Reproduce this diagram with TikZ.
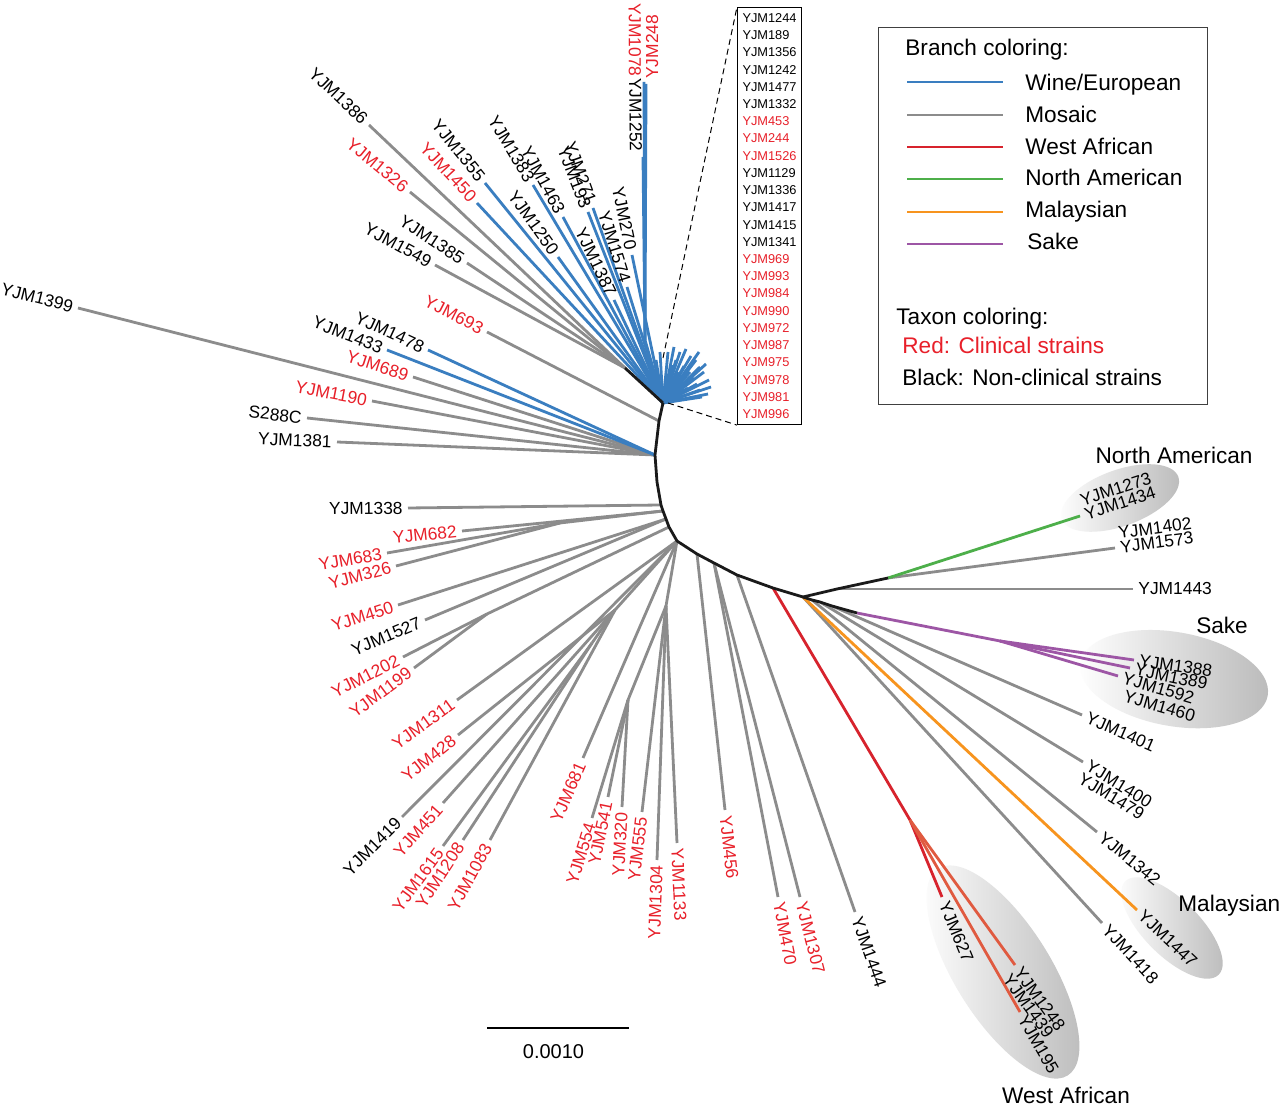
\documentclass[tikz,border=0pt]{standalone}
\usepackage{fontspec}
\setmainfont{Liberation Sans}
\usetikzlibrary{calc}
\definecolor{wine}{HTML}{3A7EC0}
\definecolor{mosaic}{HTML}{8C8C8C}
\definecolor{wafr}{HTML}{D7232D}
\definecolor{wafrb}{HTML}{E05A40}
\definecolor{namer}{HTML}{4DAF4A}
\definecolor{malay}{HTML}{F7941E}
\definecolor{sake}{HTML}{9D56A5}
\definecolor{clin}{HTML}{E8202A}
\definecolor{bb}{HTML}{1A1A1A}
% leaf: [#1 extra label options], #2 branch style, #3 from, #4 tip, #5 text colour, #6 text
\newcommand\leaf[6][]{%
  \draw[#2] (#3) -- (#4);%
  \pgfmathanglebetweenpoints{\pgfpointanchor{#3}{center}}{\pgfpointanchor{#4}{center}}%
  \pgfmathsetmacro\leafang{\pgfmathresult}%
  \ifdim\leafang pt>90pt
    \ifdim\leafang pt<270pt
      \pgfmathsetmacro\leafrot{\leafang-180}\def\leafanc{east}%
    \else
      \let\leafrot\leafang\def\leafanc{west}%
    \fi
  \else
    \let\leafrot\leafang\def\leafanc{west}%
  \fi
  \node[lab,#1,text=#5,anchor=\leafanc,rotate=\leafrot] (L-#4) at (#4) {#6};%
}
% sublabel: #1 tip, #2 relative angle, #3 distance, #4 colour, #5 text
\newcommand\sublabel[5]{%
  \node[lab,text=#4,anchor=\leafanc,rotate=\leafrot] (S-#1) at ($(#1)+(\leafrot+#2:#3)$) {#5};%
}
\begin{document}
\begin{tikzpicture}[x=0.5pt,y=-0.5pt,
  br/.style={line width=1.4pt},
  wb/.style={br,draw=wine},
  mos/.style={br,draw=mosaic},
  wa/.style={br,draw=wafr},
  wab/.style={br,draw=wafrb},
  nam/.style={br,draw=namer},
  mal/.style={br,draw=malay},
  sk/.style={br,draw=sake},
  bbl/.style={br,draw=bb,line join=round},
  lab/.style={font=\fontsize{8.7}{10}\selectfont,inner xsep=2.5pt,inner ysep=1pt},
  big/.style={font=\fontsize{11.3}{13}\selectfont,inner sep=0pt},
  blob/.style={left color=white,right color=black!27}]
\fill[white] (0,0) rectangle (1280,1111);
\useasboundingbox (0,0) rectangle (1280,1111);

% ---- clade ellipses
\coordinate (eNA) at (1120,498);
\coordinate (eSK) at (1174,679);
\coordinate (eMA) at (1172,928);
\coordinate (eWA) at (1003,972);
\shade[blob,rotate around={20:(eNA)}] (eNA) ellipse [x radius=31pt,y radius=14pt];
\shade[blob,rotate around={-10:(eSK)}] (eSK) ellipse [x radius=47.5pt,y radius=23.5pt];
\shade[blob,rotate around={-45:(eMA)}] (eMA) ellipse [x radius=33pt,y radius=14pt];
\shade[blob,rotate around={-58:(eWA)}] (eWA) ellipse [x radius=61pt,y radius=24pt];

% ---- internal nodes
\coordinate (W) at (663,403);
\coordinate (T) at (645,340);
\coordinate (G) at (625,368);
\coordinate (P1) at (659,421);
\coordinate (N2) at (655,455);
\coordinate (K0) at (657,482);
\coordinate (K1) at (661,505);
\coordinate (K2) at (663,511);
\coordinate (K3) at (666,519);
\coordinate (K4) at (669,527);
\coordinate (A) at (677,541);
\coordinate (B1) at (697,554);
\coordinate (B2) at (714,563);
\coordinate (B3) at (737,575);
\coordinate (R0) at (773,588);
\coordinate (N4) at (803,597);
\coordinate (M1) at (812,600);
\coordinate (M2) at (820,602);
\coordinate (M3) at (832,606);
\coordinate (N5) at (857,613);
\coordinate (N3) at (837,589);
\coordinate (N6) at (888,578);
\coordinate (Q1) at (560,523);
\coordinate (Q2) at (487,614);
\coordinate (C) at (615,610);
\coordinate (D) at (592,643);
\coordinate (E) at (666,606);
\coordinate (F) at (628,700);
\coordinate (Rs) at (910,820);
\coordinate (Ps) at (1000,641);

% ---- tips
\coordinate (t1386) at (369,125);
\coordinate (t1326) at (410,192);
\coordinate (t1385) at (467,263);
\coordinate (t1549) at (435,265);
\coordinate (t693) at (487,332);
\coordinate (t1355) at (485,183);
\coordinate (t1450) at (477,203);
\coordinate (t1383) at (533,185);
\coordinate (t1463) at (563,217);
\coordinate (t1250) at (558,257);
\coordinate (t271) at (593,208);
\coordinate (t193) at (588,212);
\coordinate (t1387) at (614,300);
\coordinate (t270) at (632,255);
\coordinate (t1574) at (627,287);
\coordinate (t1252) at (643,157);
\coordinate (t1078) at (644,82);
\coordinate (t248) at (646,84);
\coordinate (t1399) at (78,308);
\coordinate (t1478) at (428,350);
\coordinate (t1433) at (387,350);
\coordinate (t689) at (413,377);
\coordinate (t1190) at (372,401);
\coordinate (tS288C) at (307,418);
\coordinate (t1381) at (337,442);
\coordinate (t1338) at (408,508);
\coordinate (t682) at (462,531);
\coordinate (t683) at (387,553);
\coordinate (t326) at (396,566);
\coordinate (t450) at (398,605);
\coordinate (t1527) at (425,620);
\coordinate (t1202) at (403,657);
\coordinate (t1199) at (414,668);
\coordinate (t1311) at (457,700);
\coordinate (t428) at (458,735);
\coordinate (t1419) at (402,817);
\coordinate (t451) at (443,803);
\coordinate (t1615) at (443,846);
\coordinate (t1208) at (463,840);
\coordinate (t1083) at (490,840);
\coordinate (t681) at (583,758);
\coordinate (t554) at (592,818);
\coordinate (t541) at (608,797);
\coordinate (t320) at (622,807);
\coordinate (t555) at (642,812);
\coordinate (t1304) at (657,860);
\coordinate (t1133) at (677,843);
\coordinate (t456) at (725,810);
\coordinate (t470) at (778,897);
\coordinate (t1307) at (800,897);
\coordinate (t1444) at (855,912);
\coordinate (t627) at (942,897);
\coordinate (t1248) at (1015,965);
\coordinate (t195) at (1020,1012);
\coordinate (t1418) at (1102,923);
\coordinate (t1447) at (1137,910);
\coordinate (t1342) at (1097,832);
\coordinate (t1400) at (1083,762);
\coordinate (t1401) at (1082,715);
\coordinate (t1388) at (1134,660);
\coordinate (t1389) at (1130,668);
\coordinate (t1592) at (1118,676);
\coordinate (t1443) at (1133,589);
\coordinate (t1573) at (1115,548);
\coordinate (t1434) at (1080,516);

% ---- wine / european cluster
\foreach \x/\y [count=\i] in {668/352,674/347,680/352,686/349,691/356,696/360,700/367,
  704/372,709/380,711/387,708/394,702/397,697/384,690/372,684/366,678/372,688/388,
  700/390,694/378,683/383,672/365,676/360,660/352,656/360,706/364,699/352}{
  \coordinate (bf\i) at (\x,\y);
  \draw[wb] (W) -- (bf\i);
}
\draw[wb] (W) -- (T);
\leaf{mos}{G}{t1386}{black}{YJM1386}
\leaf{mos}{G}{t1326}{clin}{YJM1326}
\leaf{mos}{G}{t1385}{black}{YJM1385}
\leaf{mos}{G}{t1549}{black}{YJM1549}
\leaf{mos}{P1}{t693}{clin}{YJM693}
\leaf{wb}{W}{t1355}{black}{YJM1355}
\leaf{wb}{W}{t1450}{clin}{YJM1450}
\leaf{wb}{W}{t1383}{black}{YJM1383}
\leaf{wb}{W}{t1463}{black}{YJM1463}
\leaf{wb}{W}{t1250}{black}{YJM1250}
\leaf{wb}{W}{t271}{black}{YJM271}
\leaf{wb}{W}{t193}{black}{YJM193}
\leaf{wb}{W}{t1387}{black}{YJM1387}
\leaf{wb}{W}{t270}{black}{YJM270}
\leaf{wb}{W}{t1574}{black}{YJM1574}
\leaf[xshift=-3.5pt]{wb}{T}{t1252}{black}{YJM1252}
\leaf[xshift=-4.5pt]{wb}{T}{t1078}{clin}{YJM1078}
\leaf[xshift=3pt]{wb}{T}{t248}{clin}{YJM248}

% ---- left side
\leaf{mos}{N2}{t1399}{black}{YJM1399}
\leaf{mos}{N2}{t689}{clin}{YJM689}
\leaf{mos}{N2}{t1190}{clin}{YJM1190}
\leaf{mos}{N2}{tS288C}{black}{S288C}
\leaf{mos}{N2}{t1381}{black}{YJM1381}
\leaf{wb}{N2}{t1478}{black}{YJM1478}
\leaf{wb}{N2}{t1433}{black}{YJM1433}

% ---- lower mosaic fan
\leaf{mos}{K1}{t1338}{black}{YJM1338}
\leaf{mos}{K2}{t682}{clin}{YJM682}
\draw[mos] (K2) -- (Q1);
\leaf{mos}{Q1}{t683}{clin}{YJM683}
\leaf{mos}{Q1}{t326}{clin}{YJM326}
\leaf{mos}{K3}{t450}{clin}{YJM450}
\leaf{mos}{K3}{t1527}{black}{YJM1527}
\draw[mos] (K4) -- (Q2);
\leaf{mos}{Q2}{t1202}{clin}{YJM1202}
\leaf{mos}{Q2}{t1199}{clin}{YJM1199}
\leaf{mos}{A}{t1311}{clin}{YJM1311}
\draw[mos] (A) -- (C);
\leaf{mos}{C}{t428}{clin}{YJM428}
\leaf{mos}{A}{t1419}{black}{YJM1419}
\leaf{mos}{C}{t451}{clin}{YJM451}
\draw[mos] (C) -- (D);
\leaf{mos}{D}{t1615}{clin}{YJM1615}
\leaf{mos}{D}{t1208}{clin}{YJM1208}
\leaf{mos}{C}{t1083}{clin}{YJM1083}
\leaf{mos}{A}{t681}{clin}{YJM681}
\draw[mos] (A) -- (E);
\draw[mos] (E) -- (F);
\leaf{mos}{F}{t554}{clin}{YJM554}
\leaf{mos}{F}{t541}{clin}{YJM541}
\leaf{mos}{F}{t320}{clin}{YJM320}
\leaf{mos}{E}{t555}{clin}{YJM555}
\leaf{mos}{E}{t1304}{clin}{YJM1304}
\leaf{mos}{E}{t1133}{clin}{YJM1133}
\leaf{mos}{B1}{t456}{clin}{YJM456}
\leaf{mos}{B2}{t470}{clin}{YJM470}
\leaf{mos}{B2}{t1307}{clin}{YJM1307}
\leaf{mos}{B3}{t1444}{black}{YJM1444}

% ---- right side
\draw[wa] (R0) -- (Rs);
\leaf{wa}{Rs}{t627}{black}{YJM627}
\leaf{wab}{Rs}{t195}{black}{YJM195}
\leaf{wab}{Rs}{t1248}{black}{YJM1248}
\sublabel{t1248}{-95}{6.6pt}{black}{YJM1439}
\leaf{mos}{N4}{t1418}{black}{YJM1418}
\leaf{mal}{N4}{t1447}{black}{YJM1447}
\leaf{mos}{M1}{t1342}{black}{YJM1342}
\leaf{mos}{M2}{t1400}{black}{YJM1400}
\sublabel{t1400}{-90}{7.3pt}{black}{YJM1479}
\leaf{mos}{M3}{t1401}{black}{YJM1401}
\draw[sk] (N5) -- (Ps);
\leaf{sk}{Ps}{t1388}{black}{YJM1388}
\leaf{sk}{Ps}{t1389}{black}{YJM1389}
\leaf{sk}{Ps}{t1592}{black}{YJM1592}
\sublabel{t1592}{-70}{9pt}{black}{YJM1460}
\leaf{mos}{N3}{t1443}{black}{YJM1443}
\leaf{mos}{N6}{t1573}{black}{YJM1573}
\sublabel{t1573}{90}{7.3pt}{black}{YJM1402}
\leaf{nam}{N6}{t1434}{black}{YJM1434}
\sublabel{t1434}{90}{7.3pt}{black}{YJM1273}

% ---- backbone
\draw[bbl] (W) -- (P1) -- (N2) -- (K0) -- (K1) -- (K2) -- (K3) -- (K4) -- (A) -- (B1)
  -- (B2) -- (B3) -- (R0) -- (N4) -- (M1) -- (M2) -- (M3) -- (N5);
\draw[bbl] (N4) -- (N3) -- (N6);
\draw[bbl] (W) -- (G);

% ---- clade names
\node[big,anchor=base] (nNA) at (1174,463.5) {North American};
\node[big,anchor=base] (nSK) at (1222,634) {Sake};
\node[big,anchor=base west] (nMA) at (1178,911.7) {Malaysian};
\node[big,anchor=base] (nWA) at (1066,1103) {West African};

% ---- inset list
\node[draw=black,line width=0.5pt,anchor=north west,inner xsep=2.5pt,inner ysep=3pt,
  text width=27pt,align=left,font=\fontsize{6.4}{8.61}\selectfont] (inset) at (737,7)
  {YJM1244\\YJM189\\YJM1356\\YJM1242\\YJM1477\\YJM1332\\
   \textcolor{clin}{YJM453}\\\textcolor{clin}{YJM244}\\\textcolor{clin}{YJM1526}\\
   YJM1129\\YJM1336\\YJM1417\\YJM1415\\YJM1341\\
   \textcolor{clin}{YJM969}\\\textcolor{clin}{YJM993}\\\textcolor{clin}{YJM984}\\
   \textcolor{clin}{YJM990}\\\textcolor{clin}{YJM972}\\\textcolor{clin}{YJM987}\\
   \textcolor{clin}{YJM975}\\\textcolor{clin}{YJM978}\\\textcolor{clin}{YJM981}\\
   \textcolor{clin}{YJM996}};
\coordinate (zt) at (663,358);
\coordinate (zb) at (668,403);
\draw[densely dashed,line width=0.5pt] (zt) -- (inset.north west);
\draw[densely dashed,line width=0.5pt] (zb) -- (inset.south west);

% ---- legend
\node[draw=black!75,line width=0.6pt,anchor=north west,minimum width=164.5pt,
  minimum height=188.5pt,inner sep=0pt] (legend) at (878,27) {};
\foreach \c/\y in {wine/82,mosaic/115,wafr/147,namer/179,malay/212,sake/244}
  \draw[line width=1.4pt,draw=\c] (907,\y) -- (1003,\y);
\node[big,anchor=base west] (lg0) at (905,56) {Branch coloring:};
\node[big,anchor=base west] (lg1) at (1025,90.7) {Wine/European};
\node[big,anchor=base west] (lg2) at (1025,122.3) {Mosaic};
\node[big,anchor=base west] (lg3) at (1025,154.3) {West African};
\node[big,anchor=base west] (lg4) at (1025,186) {North American};
\node[big,anchor=base west] (lg5) at (1025,218) {Malaysian};
\node[big,anchor=base west] (lg6) at (1027,249.3) {Sake};
\node[big,anchor=base west] (lg7) at (896,325) {Taxon coloring:};
\node[big,anchor=base west,text=clin] (lg8) at (902,353.3) {Red: Clinical strains};
\node[big,anchor=base west] (lg9) at (902,385.7) {Black: Non-clinical strains};

% ---- scale bar
\coordinate (sb1) at (487,1028);
\coordinate (sb2) at (629,1028);
\draw[line width=1pt] (sb1) -- (sb2);
\node[font=\fontsize{10}{12}\selectfont,anchor=base,inner sep=0pt] (sbl) at (553.5,1058) {0.0010};
\end{tikzpicture}
\end{document}
